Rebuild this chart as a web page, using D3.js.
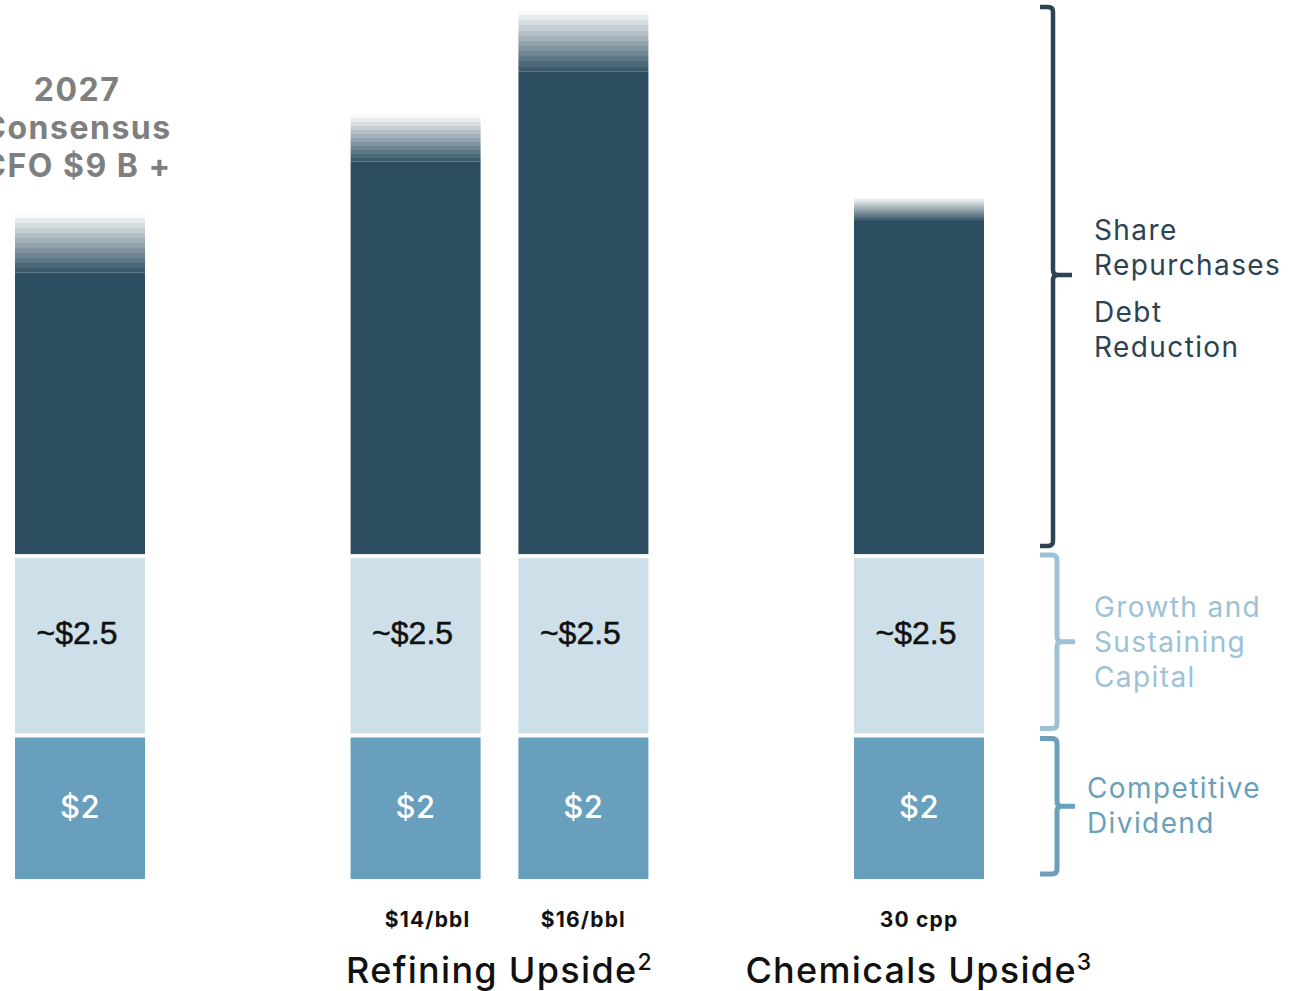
<!DOCTYPE html>
<html>
<head>
<meta charset="utf-8">
<script src="https://cdn.jsdelivr.net/npm/d3@7/dist/d3.min.js"></script>
<style>
  html, body { margin: 0; padding: 0; background: #ffffff; }
  svg { display: block; }
</style>
</head>
<body>
<svg id="chart" width="1306" height="991"></svg>
<script>
// ---- data ($ billions) ----
const barIds      = ["consensus", "ref14", "ref16", "chem30"];
const barSlots    = [0, 2, 3, 5];                 // horizontal slot of each bar
const dividend    = [2, 2, 2, 2];                  // Competitive Dividend
const capital     = [2.5, 2.5, 2.5, 2.5];          // Growth and Sustaining Capital
const returnsBase = [3.95, 5.5, 6.75, 4.67];       // Share Repurchases / Debt Reduction (solid part)
const returnsUp   = [0.83, 0.66, 0.86, 0.33];      // open-ended upside shown as a fade
const dividendLabels = ["$2", "$2", "$2", "$2"];
const capitalLabels  = ["~$2.5", "~$2.5", "~$2.5", "~$2.5"];
const priceLabels    = ["", "$14/bbl", "$16/bbl", "30 cpp"];
const titleLines     = ["2027", "Consensus", "CFO $9 B +"];
const groupLabels    = [
  { text: "Refining Upside", sup: "2", slots: [2, 3] },
  { text: "Chemicals Upside", sup: "3", slots: [5, 5] }
];
const legendGroups = [
  { key: "returns",  lines: [["Share", "Repurchases"], ["Debt", "Reduction"]] },
  { key: "capital",  lines: [["Growth and", "Sustaining", "Capital"]] },
  { key: "dividend", lines: [["Competitive", "Dividend"]] }
];

// ---- styling ----
const colors = {
  returns: "#2d4e60",
  capital: "#cddfe8",
  dividend: "#679fbd",
  braceReturns: "#2b4352",
  braceCapital: "#9dc1d5",
  braceDividend: "#6a9fbd",
  title: "#7f7f7f"
};
const sansFont = "Inter, 'Noto Sans', sans-serif";
const numFont  = "'Liberation Sans', Arial, sans-serif";

const svg = d3.select("#chart");

const y = d3.scaleLinear().domain([0, 12.25]).range([879, 0]);
const x = d3.scaleLinear().domain([0, 5]).range([80, 919]);
const barW = 130;
const gap = 2;

// fade gradient for the open-ended top of each bar
const defs = svg.append("defs");
const grad = defs.append("linearGradient")
  .attr("id", "fadeUp").attr("x1", 0).attr("y1", 1).attr("x2", 0).attr("y2", 0);
const steps = 12;
for (let i = 0; i < steps; i++) {
  const o = 0.93 - i * (0.9 / (steps - 1));
  grad.append("stop").attr("offset", i / steps).attr("stop-color", colors.returns).attr("stop-opacity", o);
  grad.append("stop").attr("offset", (i + 1) / steps).attr("stop-color", colors.returns).attr("stop-opacity", o);
}

const bars = barIds.map((id, i) => ({
  id, slot: barSlots[i],
  div: dividend[i], cap: capital[i], base: returnsBase[i], up: returnsUp[i],
  divLabel: dividendLabels[i], capLabel: capitalLabels[i], price: priceLabels[i]
}));

const g = svg.append("g");
const bar = g.selectAll("g.bar").data(bars).join("g").attr("class", "bar")
  .attr("transform", d => `translate(${x(d.slot) - barW / 2},0)`);

// dividend segment
bar.append("rect")
  .attr("x", 0).attr("width", barW)
  .attr("y", d => y(d.div) + gap)
  .attr("height", d => y(0) - y(d.div) - gap)
  .attr("fill", colors.dividend);

// capital segment
bar.append("rect")
  .attr("x", 0).attr("width", barW)
  .attr("y", d => y(d.div + d.cap) + gap)
  .attr("height", d => y(d.div) - y(d.div + d.cap) - 2 * gap)
  .attr("fill", colors.capital);

// shareholder returns segment (solid)
bar.append("rect")
  .attr("x", 0).attr("width", barW)
  .attr("y", d => y(d.div + d.cap + d.base))
  .attr("height", d => y(d.div + d.cap) - y(d.div + d.cap + d.base) - gap)
  .attr("fill", colors.returns);

// shareholder returns upside (fade)
bar.append("rect")
  .attr("x", 0).attr("width", barW)
  .attr("y", d => y(d.div + d.cap + d.base + d.up))
  .attr("height", d => y(d.div + d.cap + d.base) - y(d.div + d.cap + d.base + d.up))
  .attr("fill", "url(#fadeUp)");

// segment value labels
bar.append("text")
  .attr("x", barW / 2).attr("y", d => y(d.div / 2) + 11)
  .attr("text-anchor", "middle")
  .attr("font-family", sansFont).attr("font-size", 31).attr("font-weight", 500)
  .attr("letter-spacing", 0.5)
  .attr("fill", "#ffffff")
  .text(d => d.divLabel);

bar.append("text")
  .attr("x", barW / 2 - 3).attr("y", d => y(d.div + d.cap / 2) - 2)
  .attr("text-anchor", "middle")
  .attr("font-family", numFont).attr("font-size", 32)
  .attr("stroke", "#111111").attr("stroke-width", 0.5)
  .attr("fill", "#111111")
  .text(d => d.capLabel);

// price assumption under each bar
g.selectAll("text.price").data(bars.filter(d => d.price)).join("text")
  .attr("class", "price")
  .attr("x", d => x(d.slot) + (d.slot === 2 ? 12 : 0))
  .attr("y", 927)
  .attr("text-anchor", "middle")
  .attr("font-family", sansFont).attr("font-size", 21).attr("font-weight", 700)
  .attr("letter-spacing", 1.2)
  .attr("fill", "#111111")
  .text(d => d.price);

// group captions
const cap = g.selectAll("text.group").data(groupLabels).join("text")
  .attr("class", "group")
  .attr("x", d => (x(d.slots[0]) + x(d.slots[1])) / 2)
  .attr("y", 983)
  .attr("text-anchor", "middle")
  .attr("font-family", sansFont).attr("font-size", 36).attr("font-weight", 500)
  .attr("letter-spacing", 1.3)
  .attr("fill", "#111111");
cap.append("tspan").text(d => d.text);
cap.append("tspan").attr("dy", -13).attr("font-size", 23).text(d => d.sup);

// consensus title above first bar
g.append("text")
  .attr("text-anchor", "middle")
  .attr("font-family", sansFont).attr("font-size", 32).attr("font-weight", 700)
  .attr("letter-spacing", 1.5)
  .attr("fill", colors.title)
  .selectAll("tspan").data(titleLines).join("tspan")
  .attr("x", x(0) - 3).attr("y", (d, i) => 101 + i * 38)
  .text(d => d);

// ---- braces ----
function bracePath(x0, xs, xt, yTop, yMid, yBot, r) {
  const p = d3.path();
  p.moveTo(x0, yTop);
  p.lineTo(xs - r, yTop);
  p.quadraticCurveTo(xs, yTop, xs, yTop + r);
  p.lineTo(xs, yMid - r);
  p.quadraticCurveTo(xs, yMid, xs + r, yMid);
  p.lineTo(xt, yMid);
  p.moveTo(xs + r, yMid);
  p.quadraticCurveTo(xs, yMid, xs, yMid + r);
  p.lineTo(xs, yBot - r);
  p.quadraticCurveTo(xs, yBot, xs - r, yBot);
  p.lineTo(x0, yBot);
  return p.toString();
}

const maxTotal = d3.max(bars, d => d.div + d.cap + d.base + d.up);
const braces = [
  { key: "returns",  color: colors.braceReturns,  top: y(maxTotal) - 3, bot: y(4.5) - 10, mid: 275, xs: 1053, xt: 1072, w: 4.5 },
  { key: "capital",  color: colors.braceCapital,  top: y(4.5) - 1,      bot: y(2) - 7,   mid: null, xs: 1057, xt: 1075, w: 5 },
  { key: "dividend", color: colors.braceDividend, top: y(2) + 3,        bot: y(0) - 5,   mid: null, xs: 1057, xt: 1075, w: 5 }
];
braces.forEach(b => {
  const mid = b.mid != null ? b.mid : (b.top + b.bot) / 2;
  svg.append("path")
    .attr("d", bracePath(1040, b.xs, b.xt, b.top, mid, b.bot, 5))
    .attr("fill", "none").attr("stroke", b.color)
    .attr("stroke-width", b.w).attr("stroke-linecap", "butt").attr("stroke-linejoin", "round");
});

// ---- legend text beside braces ----
const legendStyle = {
  returns:  { color: colors.braceReturns, x: 1094, blocks: [240, 322] },
  capital:  { color: colors.braceCapital, x: 1094, blocks: [617] },
  dividend: { color: colors.braceDividend, x: 1087, blocks: [798] }
};
legendGroups.forEach(lg => {
  const st = legendStyle[lg.key];
  lg.lines.forEach((block, bi) => {
    svg.append("text")
      .attr("font-family", sansFont).attr("font-size", 28).attr("font-weight", 400)
      .attr("letter-spacing", 1.4)
      .attr("fill", st.color)
      .selectAll("tspan").data(block).join("tspan")
      .attr("x", st.x).attr("y", (d, i) => st.blocks[bi] + i * 35)
      .text(d => d);
  });
});
</script>
</body>
</html>
